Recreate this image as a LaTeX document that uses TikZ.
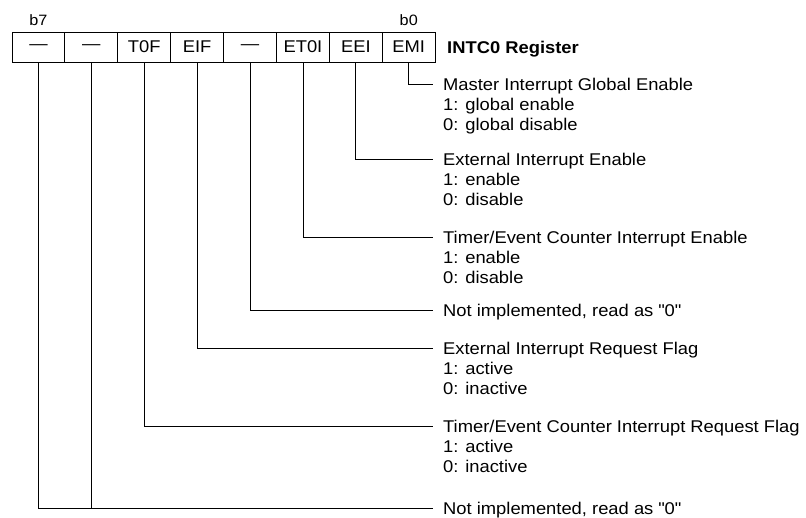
\documentclass[tikz,border=0pt]{standalone}
\usepackage{fontspec}
\setmainfont{Liberation Sans}[FakeStretch=1.08]
\usetikzlibrary{calc}

% 三行说明，基线取第一行
\newcommand{\threelines}[3]{\vtop{\hbox{#1}\hbox{#2}\hbox{#3}}}

\tikzset{
  regcell/.style={draw, line width=0.9pt, minimum width=52.9pt, minimum height=30pt,
    inner sep=0pt, font=\fontsize{17}{20}\selectfont},
  bitlabel/.style={anchor=base, inner sep=0pt, font=\fontsize{15}{18}\selectfont},
  desc/.style={anchor=base west, inner sep=0pt,
    font=\fontsize{17}{20}\selectfont},
  wire/.style={line width=0.9pt}
}

\begin{document}
\begin{tikzpicture}[x=1pt, y=-1pt]
  \useasboundingbox (0,0) rectangle (806,517);

  % 寄存器各位
  \node[regcell] (b7)   at (38.45,47)  {—};
  \node[regcell] (b6)   at (91.35,47)  {—};
  \node[regcell] (t0f)  at (144.25,47) {T0F};
  \node[regcell] (eif)  at (197.15,47) {EIF};
  \node[regcell] (b3)   at (250.05,47) {—};
  \node[regcell] (et0i) at (302.95,47) {ET0I};
  \node[regcell] (eei)  at (355.85,47) {EEI};
  \node[regcell] (emi)  at (408.75,47) {EMI};

  % 位号与寄存器名
  \node[bitlabel] (lb7) at (38.45,25) {b7};
  \node[bitlabel] (lb0) at (408.75,25) {b0};
  \node[desc, font=\fontsize{17}{20}\selectfont\bfseries] (title) at (447,53.3) {INTC0 Register};

  % 说明文字
  \node[desc] (dEMI)  at (443,90)  {\threelines{Master Interrupt Global Enable}{1: global enable}{0: global disable}};
  \node[desc] (dEEI)  at (443,165) {\threelines{External Interrupt Enable}{1: enable}{0: disable}};
  \node[desc] (dET0I) at (443,243) {\threelines{Timer/Event Counter Interrupt Enable}{1: enable}{0: disable}};
  \node[desc] (dB3)   at (443,316) {Not implemented, read as \textquotedbl 0\textquotedbl};
  \node[desc] (dEIF)  at (443,354) {\threelines{External Interrupt Request Flag}{1: active}{0: inactive}};
  \node[desc] (dT0F)  at (443,432) {\threelines{Timer/Event Counter Interrupt Request Flag}{1: active}{0: inactive}};
  \node[desc] (dB76)  at (443,514) {Not implemented, read as \textquotedbl 0\textquotedbl};

  % 引线端点
  \coordinate (eEMI)  at ($(dEMI.base west)+(-10,-6)$);
  \coordinate (eEEI)  at ($(dEEI.base west)+(-10,-6)$);
  \coordinate (eET0I) at ($(dET0I.base west)+(-10,-6)$);
  \coordinate (eB3)   at ($(dB3.base west)+(-10,-6)$);
  \coordinate (eEIF)  at ($(dEIF.base west)+(-10,-6)$);
  \coordinate (eT0F)  at ($(dT0F.base west)+(-10,-6)$);
  \coordinate (eB76)  at ($(dB76.base west)+(-10,-6)$);

  % 引线
  \draw[wire] (emi.south)  |- (eEMI);
  \draw[wire] (eei.south)  |- (eEEI);
  \draw[wire] (et0i.south) |- (eET0I);
  \draw[wire] (b3.south)   |- (eB3);
  \draw[wire] (eif.south)  |- (eEIF);
  \draw[wire] (t0f.south)  |- (eT0F);
  \draw[wire] (b7.south)   |- (eB76);
  \draw[wire] (b6.south)   -- (b6.south |- eB76);
\end{tikzpicture}
\end{document}
